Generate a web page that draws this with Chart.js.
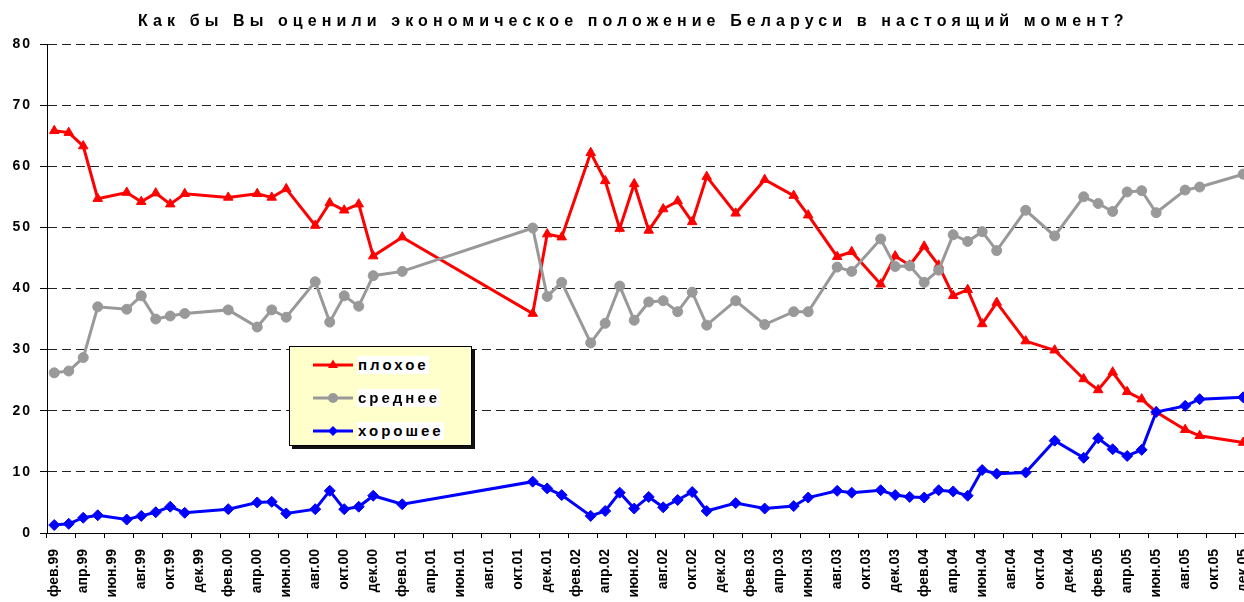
<!DOCTYPE html>
<html>
<head>
<meta charset="utf-8">
<script src="https://cdn.jsdelivr.net/npm/chart.js@4"></script>
<style>
  html, body { margin: 0; padding: 0; background: #fff; overflow: hidden; }
  #wrap { position: relative; width: 1244px; height: 602px; overflow: hidden; }
  #myChart { position: absolute; left: 0; top: 0; }
  #title {
    position: absolute; left: 138px; top: 12px; white-space: nowrap;
    font: bold 16px "Liberation Sans", Arial, sans-serif; line-height: 18px;
    letter-spacing: 5.1px; color: #000;
  }
  #legend {
    position: absolute; left: 289px; top: 346px; width: 181px; height: 98px;
    background: #ffffcc; border: 1px solid #000; box-shadow: 3px 3px 0 #111;
  }
  .row { position: absolute; left: 0; height: 18px; }
  .row svg { position: absolute; left: 23px; top: 0; }
  .row span {
    position: absolute; left: 67px; top: 0; background: #fff; padding: 0 0 0 1px;
    font: bold 15px "Liberation Sans", Arial, sans-serif; line-height: 18px;
    letter-spacing: 3px; color: #000; white-space: nowrap;
  }
</style>
</head>
<body>
<div id="wrap">
  <canvas id="myChart" width="1271" height="602"></canvas>
  <div id="title">Как бы Вы оценили экономическое положение Беларуси в настоящий момент?</div>
  <div id="legend">
    <div class="row" style="top:9px">
      <svg width="40" height="18"><line x1="0" y1="9" x2="40" y2="9" stroke="#ff0000" stroke-width="3"/><polygon points="20,3.5 25,12 15,12" fill="#ff0000"/></svg>
      <span>плохое</span>
    </div>
    <div class="row" style="top:42px">
      <svg width="40" height="18"><line x1="0" y1="9" x2="40" y2="9" stroke="#999999" stroke-width="3"/><circle cx="20" cy="9" r="5" fill="#999999"/></svg>
      <span>среднее</span>
    </div>
    <div class="row" style="top:75px">
      <svg width="40" height="18"><line x1="0" y1="9" x2="40" y2="9" stroke="#0000ff" stroke-width="3"/><polygon points="20,4 25,9 20,14 15,9" fill="#0000ff"/></svg>
      <span>хорошее</span>
    </div>
  </div>
</div>
<script>
// месяцы: фев.99 ... дек.05
const monthNames = ['янв', 'фев', 'мар', 'апр', 'май', 'июн', 'июл', 'авг', 'сен', 'окт', 'ноя', 'дек'];
const years = ['99', '00', '01', '02', '03', '04', '05'];

const labels = [];
years.forEach(function (y, yi) {
    monthNames.forEach(function (m, mi) {
        if (yi === 0 && mi === 0) return;
        labels.push(m + '.' + y);
    });
});

const yTicks = [0, 10, 20, 30, 40, 50, 60, 70, 80];

// null = опроса не было
const bad = [
    65.8, 65.5, 63.3, 54.7, null, 55.7, 54.2, 55.6, 53.8, 55.5, null,
    null, 54.9, null, 55.5, 54.9, 56.3, null, 50.3, 54.0, 52.8, 53.8, 45.3,
    null, 48.4, null, null, null, null, null, null, null, null, 35.9, 48.9,
    48.4, null, 62.2, 57.6, 49.8, 57.1, 49.5, 53.0, 54.3, 50.9, 58.3, null,
    52.3, null, 57.8, null, 55.2, 52.0, null, 45.2, 46.0, null, 40.7, 45.3,
    43.8, 46.9, 43.8, 38.8, 39.8, 34.2, 37.7, null, 31.4, null, 29.9, null,
    25.2, 23.4, 26.3, 23.1, 21.9, 19.8, null, 16.9, 15.9, null, null, 14.8
];

const medium = [
    26.2, 26.5, 28.7, 37.0, null, 36.6, 38.8, 35.0, 35.5, 35.9, null,
    null, 36.5, null, 33.7, 36.5, 35.3, null, 41.1, 34.5, 38.8, 37.1, 42.1,
    null, 42.8, null, null, null, null, null, null, null, null, 49.9, 38.7,
    41.0, null, 31.1, 34.3, 40.4, 34.8, 37.8, 38.0, 36.2, 39.4, 34.0, null,
    38.0, null, 34.1, null, 36.2, 36.2, null, 43.5, 42.8, null, 48.1, 43.6,
    43.7, 41.0, 43.0, 48.8, 47.7, 49.3, 46.2, null, 52.8, null, 48.6, null,
    55.0, 53.9, 52.6, 55.8, 56.0, 52.4, null, 56.1, 56.6, null, null, 58.7
];

const good = [
    1.3, 1.5, 2.5, 2.9, null, 2.2, 2.8, 3.4, 4.3, 3.3, null,
    null, 3.9, null, 5.0, 5.1, 3.2, null, 3.9, 6.9, 3.9, 4.3, 6.1,
    null, 4.7, null, null, null, null, null, null, null, null, 8.4, 7.3,
    6.2, null, 2.8, 3.6, 6.6, 4.0, 5.9, 4.2, 5.4, 6.7, 3.6, null,
    4.9, null, 4.0, null, 4.4, 5.8, null, 6.9, 6.6, null, 7.0, 6.2,
    5.9, 5.8, 7.0, 6.8, 6.1, 10.3, 9.7, null, 9.9, null, 15.1, null,
    12.3, 15.5, 13.7, 12.6, 13.6, 19.8, null, 20.8, 21.9, null, null, 22.2
];

const FONT = '"Liberation Sans", Arial, sans-serif';

// разрядка для подписей оси Y (они рисуются поверх данных, z: 1)
const spacingPlugin = {
    id: 'spacing',
    afterDatasetsDraw: function (chart) { chart.ctx.letterSpacing = '2px'; },
    afterDraw: function (chart) { chart.ctx.letterSpacing = '0px'; }
};

const data = {
    labels: labels,
    datasets: [{
        label: 'плохое',
        data: bad,
        borderColor: '#ff0000',
        backgroundColor: '#ff0000',
        pointStyle: 'triangle',
        pointRadius: 5.5,
        order: 2
    }, {
        label: 'среднее',
        data: medium,
        borderColor: '#999999',
        backgroundColor: '#999999',
        pointStyle: 'circle',
        pointRadius: 5,
        order: 1
    }, {
        label: 'хорошее',
        data: good,
        borderColor: '#0000ff',
        backgroundColor: '#0000ff',
        pointStyle: 'rectRot',
        pointRadius: 5.5,
        order: 0
    }]
};

const config = {
    type: 'line',
    data: data,
    plugins: [spacingPlugin],
    options: {
        responsive: false,
        animation: false,
        devicePixelRatio: 1,
        spanGaps: true,
        layout: { padding: { top: 44, left: 0, right: 0, bottom: 0 } },
        elements: {
            line: { borderWidth: 3, tension: 0 },
            point: { borderWidth: 1 }
        },
        plugins: {
            legend: { display: false },
            tooltip: { enabled: false },
            title: { display: false }
        },
        scales: {
            x: {
                offset: true,
                grid: {
                    offset: true,
                    drawOnChartArea: false,
                    drawTicks: true,
                    tickLength: 5,
                    tickColor: function (c) { return c.index % 2 === 0 ? '#000' : 'rgba(0,0,0,0)'; }
                },
                border: { color: '#000', width: 1 },
                ticks: {
                    autoSkip: false,
                    minRotation: 90,
                    maxRotation: 90,
                    padding: 11,
                    color: '#000',
                    font: { family: FONT, size: 14, weight: 'bold' },
                    callback: function (v, i) { return i % 2 === 0 ? this.getLabelForValue(v) : ''; }
                },
                afterFit: function (s) { s.height = 69; }
            },
            y: {
                min: yTicks[0],
                max: yTicks[yTicks.length - 1],
                afterBuildTicks: function (s) { s.ticks = yTicks.map(function (v) { return { value: v }; }); },
                grid: { color: '#222', lineWidth: 1, tickLength: 7, tickColor: '#000' },
                border: { color: '#000', width: 1, dash: [9, 5] },
                ticks: {
                    z: 1,
                    padding: 8,
                    color: '#000',
                    font: { family: FONT, size: 14, weight: 'bold' }
                },
                afterFit: function (s) { s.width = 47; }
            }
        }
    }
};

const myChart = new Chart(
    document.getElementById('myChart'),
    config
);
</script>
</body>
</html>
